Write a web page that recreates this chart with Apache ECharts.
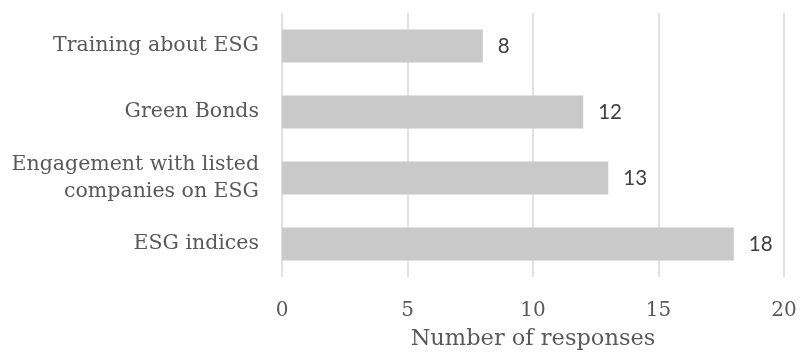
<!DOCTYPE html>
<html>
<head>
<meta charset="utf-8">
<script src="https://cdn.jsdelivr.net/npm/echarts@6/dist/echarts.min.js"></script>
<style>
html,body{margin:0;padding:0;background:#fff;}
#chart{width:801px;height:356px;}
</style>
</head>
<body>
<div id="chart"></div>
<script>
const categories = ["Training about ESG", "Green Bonds", "Engagement with listed\ncompanies on ESG", "ESG indices"];
const responses = [8, 12, 13, 18];
const xTicks = [0, 5, 10, 15, 20];
const axisTitle = "Number of responses";

const chart = echarts.init(document.getElementById('chart'), null, {renderer: 'canvas'});
chart.setOption({
  animation: false,
  backgroundColor: '#ffffff',
  grid: {left: 282, right: 17, top: 13, bottom: 79, containLabel: false},
  xAxis: {
    type: 'value',
    min: xTicks[0],
    max: xTicks[xTicks.length - 1],
    interval: xTicks[1] - xTicks[0],
    name: axisTitle,
    nameLocation: 'middle',
    nameGap: 51,
    nameTextStyle: {fontFamily: 'DejaVu Serif', fontSize: 22.5, color: '#595959'},
    axisLine: {show: false},
    axisTick: {show: false},
    axisLabel: {fontFamily: 'DejaVu Serif', fontSize: 20, color: '#595959', margin: 24},
    splitLine: {show: true, lineStyle: {color: '#d9d9d9', width: 1.5}}
  },
  yAxis: {
    type: 'category',
    data: categories,
    inverse: true,
    axisLine: {show: false},
    axisTick: {show: false},
    axisLabel: {fontFamily: 'DejaVu Serif', fontSize: 20.5, color: '#595959', margin: 23, lineHeight: 26.5, align: 'right'}
  },
  series: [{
    type: 'bar',
    data: responses,
    barCategoryGap: '50%',
    itemStyle: {color: '#c9c9c9'},
    label: {show: true, position: 'right', distance: 15, fontFamily: 'Lato', fontSize: 20.5, color: '#404040'}
  }]
});
</script>
</body>
</html>
